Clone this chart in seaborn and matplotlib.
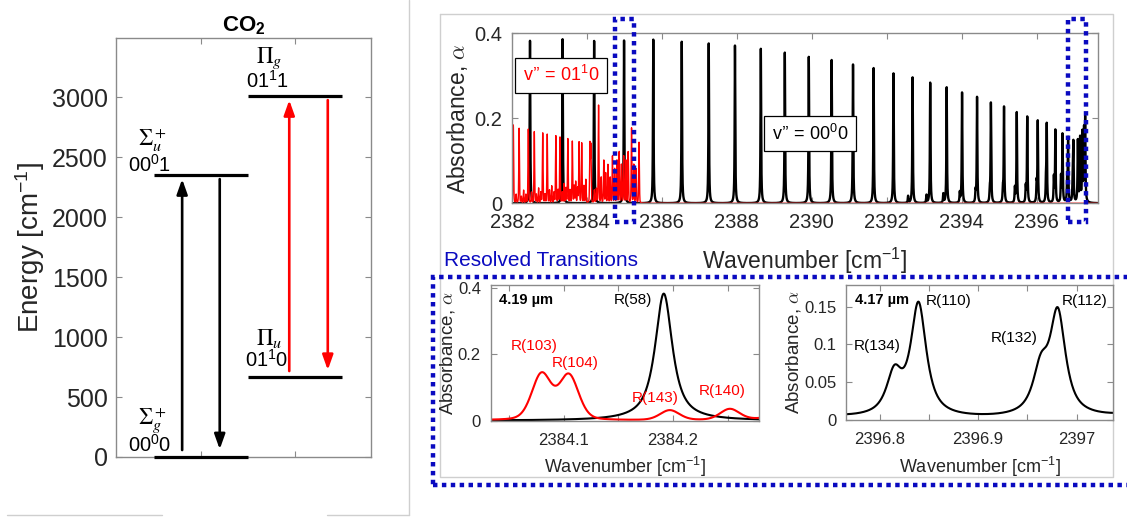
import numpy as np
import matplotlib
matplotlib.use("Agg")
import matplotlib.pyplot as plt
import seaborn as sns
from matplotlib.patches import Rectangle
from matplotlib.lines import Line2D
from matplotlib.ticker import FixedLocator, FuncFormatter

# ------------------------------------------------------------------ data
# energy-level diagram
level_labels = ["00$^0$0", "00$^0$1", "01$^1$0", "01$^1$1"]
level_symbols = [r"$\Sigma_g^+$", r"$\Sigma_u^+$", r"$\Pi_u$", r"$\Pi_g$"]
level_energy = [0, 2349, 667, 3015]
level_column = [1, 1, 2, 2]

arrow_x = [0.80, 1.20, 1.94, 2.35]
arrow_start = [58, 2318, 717, 2977]
arrow_end = [2318, 64, 2977, 725]
arrow_colors = ["black", "black", "red", "red"]

# v'' = 00^0 0 band (black): line centres [cm-1] and peak absorbance
black_wn = [2382.48, 2383.35, 2384.1915, 2384.99, 2385.77, 2386.53, 2387.25,
            2387.95, 2388.64, 2389.28, 2389.92, 2390.53, 2391.10, 2391.65,
            2392.18, 2392.69, 2393.16, 2393.60, 2394.01, 2394.41, 2394.78,
            2395.13, 2395.47, 2395.75, 2396.03, 2396.27, 2396.50, 2396.69,
            2396.8395, 2396.9807, 2397.10, 2397.16, 2397.22, 2397.265, 2397.295,
            # weak high-J lines beyond the band head
            2392.57, 2393.06, 2393.51, 2393.95, 2394.37, 2394.75, 2395.10,
            2395.42, 2395.71, 2396.00, 2396.25, 2396.46, 2396.65,
            2396.815, 2396.9635]
black_h = [0.383, 0.386, 0.382, 0.383, 0.385, 0.380, 0.376,
           0.371, 0.364, 0.355, 0.345, 0.337, 0.327, 0.318,
           0.306, 0.296, 0.284, 0.273, 0.260, 0.249, 0.235,
           0.225, 0.213, 0.202, 0.191, 0.180, 0.170, 0.160,
           0.148, 0.134, 0.145, 0.150, 0.160, 0.160, 0.190,
           0.016, 0.018, 0.021, 0.023, 0.025, 0.027, 0.030,
           0.034, 0.036, 0.043, 0.050, 0.058, 0.060,
           0.053, 0.056]

# v'' = 01^1 0 hot band (red)
red_wn = [2382.035, 2382.11, 2382.19, 2382.25, 2382.31, 2382.37, 2382.435,
          2382.52, 2382.595, 2382.65, 2382.71, 2382.77, 2382.82, 2382.88,
          2382.94, 2383.00, 2383.06, 2383.12, 2383.17, 2383.23, 2383.28,
          2383.34, 2383.39, 2383.44, 2383.49, 2383.55, 2383.61, 2383.66,
          2383.70, 2383.75, 2383.79, 2383.86, 2383.92, 2383.97,
          2384.0796, 2384.1046, 2384.197, 2384.252, 2384.31, 2384.38,
          2384.45, 2384.50, 2384.56, 2384.62, 2384.68, 2384.74, 2384.80,
          2384.86, 2384.92, 2384.98, 2385.04, 2385.10, 2385.19, 2385.25,
          2385.31, 2385.39]
red_h = [0.184, 0.020, 0.176, 0.015, 0.030, 0.020, 0.174,
         0.025, 0.168, 0.020, 0.035, 0.025, 0.165, 0.020,
         0.162, 0.030, 0.040, 0.025, 0.158, 0.030, 0.155,
         0.025, 0.045, 0.035, 0.151, 0.030, 0.145, 0.040,
         0.050, 0.035, 0.143, 0.141, 0.040, 0.055,
         0.138, 0.134, 0.030, 0.033, 0.230, 0.060,
         0.100, 0.070, 0.090, 0.060, 0.110, 0.080, 0.100,
         0.120, 0.090, 0.110, 0.100, 0.120, 0.176, 0.090,
         0.080, 0.143]

top_xticks = [2382, 2384, 2386, 2388, 2390, 2392, 2394, 2396]
top_yticks = [0, 0.2, 0.4]
bl_xticks = [2384.1, 2384.2]
bl_minor = [2384.05, 2384.15, 2384.25]
bl_yticks = [0, 0.2, 0.4]
br_xticks = [2396.8, 2396.9, 2397.0]
br_minor = [2396.85, 2396.95]
br_yticks = [0, 0.05, 0.1, 0.15]

bl_labels = ["R(58)", "R(103)", "R(104)", "R(143)", "R(140)"]
bl_label_x = [2384.163, 2384.0726, 2384.1107, 2384.1839, 2384.2448]
bl_label_y = [0.363, 0.2255, 0.1735, 0.069, 0.0893]
bl_label_c = ["black", "red", "red", "red", "red"]
br_labels = ["R(110)", "R(112)", "R(134)", "R(132)"]
br_label_x = [2396.870, 2397.0077, 2396.798, 2396.9368]
br_label_y = [0.158, 0.1576, 0.0984, 0.108]

# ------------------------------------------------------------------ style
sns.set_theme(style="white")
plt.rcParams["font.family"] = ["Liberation Sans", "DejaVu Sans"]
plt.rcParams["mathtext.fontset"] = "custom"
plt.rcParams["mathtext.rm"] = "Liberation Sans"
plt.rcParams["mathtext.it"] = "Liberation Sans:italic"
plt.rcParams["mathtext.bf"] = "Liberation Sans:bold"

TXT = "#262626"
SPINE = "#8a8a8a"
BLUE = "#0a0ac0"
W, H = 1127, 518


def fx(px):
    return px / W


def fy(py):
    return 1 - py / H


def axes_px(x0, y0, x1, y1):
    return [fx(x0), fy(y1), fx(x1) - fx(x0), fy(y0) - fy(y1)]


def profile(grid, centres, heights, hw, eta):
    c = np.asarray(centres)[:, None]
    h = np.asarray(heights)[:, None]
    d = (grid[None, :] - c) / hw
    p = eta / (1 + d ** 2) + (1 - eta) * np.exp(-np.log(2) * d ** 2)
    return (h * p).sum(axis=0)


def style_axes(ax, size, pad):
    for s in ax.spines.values():
        s.set_color(SPINE)
        s.set_linewidth(1.0)
        s.set_visible(True)
    ax.tick_params(which="both", direction="in", top=True, right=True,
                   bottom=True, left=True, color=SPINE, length=4, width=0.8,
                   labelsize=size, labelcolor=TXT, pad=pad)
    ax.set_facecolor("white")


fmt = FuncFormatter(lambda v, p: f"{v:g}")

fig = plt.figure(figsize=(W / 100, H / 100), dpi=100)
fig.patch.set_facecolor("white")

# ------------------------------------------------------------------ left: energy levels
axL = fig.add_axes(axes_px(116, 38, 371, 457))
style_axes(axL, 18, 6)
axL.set_xlim(0.096, 2.81)
axL.set_ylim(0, 3495)
axL.set_yticks([0, 500, 1000, 1500, 2000, 2500, 3000])
axL.set_xticks([1, 2])
axL.set_xticklabels([])
for e, c in zip(level_energy, level_column):
    axL.hlines(e, c - 0.5, c + 0.5, color="black", lw=2.3, clip_on=False, zorder=3)
for x, a, b, col in zip(arrow_x, arrow_start, arrow_end, arrow_colors):
    axL.annotate("", xy=(x, b), xytext=(x, a),
                 arrowprops=dict(arrowstyle="-|>,head_length=0.45,head_width=0.16",
                                 color=col, lw=1.9, shrinkA=0, shrinkB=0,
                                 mutation_scale=20))
sym_pos = [(0.486, 303), (0.486, 2644), (1.727, 990), (1.727, 3325)]
lab_pos = [(0.458, 100), (0.449, 2441), (1.695, 809), (1.704, 3139)]
for s, (x, y) in zip(level_symbols, sym_pos):
    axL.text(x, y, s, ha="center", va="center", fontsize=16.5, color="black",
             math_fontfamily="stix")
for s, (x, y) in zip(level_labels, lab_pos):
    axL.text(x, y, s, ha="center", va="center", fontsize=14.5, color="black")
axL.set_ylabel("Energy [cm$^{-1}$]", fontsize=20, color=TXT)
axL.yaxis.set_label_coords(-0.272, 0.5)
axL.set_title(r"$\mathbf{CO_2}$", fontsize=16, color="black", pad=5)

# ------------------------------------------------------------------ top right: full spectrum
axT = fig.add_axes(axes_px(512, 33.3, 1097.7, 203.3))
style_axes(axT, 14.5, 7)
gridT = np.arange(2381.99, 2397.64, 0.0008)
blackT = profile(gridT, black_wn, black_h, 0.0095, 0.9)
redT = profile(gridT, red_wn, red_h, 0.0105, 0.25)
sns.lineplot(x=gridT, y=blackT, ax=axT, color="black", lw=1.7,
             estimator=None, sort=False)
sns.lineplot(x=gridT, y=redT, ax=axT, color="red", lw=1.0,
             estimator=None, sort=False)
axT.set_xlim(2382, 2397.63)
axT.set_ylim(0, 0.4)
axT.xaxis.set_major_locator(FixedLocator(top_xticks))
axT.yaxis.set_major_locator(FixedLocator(top_yticks))
axT.yaxis.set_major_formatter(fmt)
axT.set_xlabel("Wavenumber [cm$^{-1}$]", fontsize=16.5, color=TXT)
axT.xaxis.set_label_coords(0.5, -0.25)
axT.set_ylabel("Absorbance, $\\alpha$", fontsize=16.5, color=TXT,
               math_fontfamily="cm")
axT.yaxis.set_label_coords(-0.072, 0.5)
axT.text(2383.316, 0.301, "v\u2019\u2019 = 01$^1$0", color="red", fontsize=13,
         ha="center", va="center", zorder=5,
         bbox=dict(boxstyle="square,pad=0.42", fc="white", ec="black", lw=0.9))
axT.text(2389.95, 0.1635, "v\u2019\u2019 = 00$^0$0", color="black", fontsize=13,
         ha="center", va="center", zorder=5,
         bbox=dict(boxstyle="square,pad=0.42", fc="white", ec="black", lw=0.9))
for x0, x1 in [(2384.748, 2385.263), (2396.826, 2397.315)]:
    axT.add_patch(Rectangle((x0, -0.0433), x1 - x0, 0.4766, fill=False,
                            ec=BLUE, lw=3.2, ls=(0, (1, 1)), clip_on=False, zorder=6))

# ------------------------------------------------------------------ bottom left zoom
axBL = fig.add_axes(axes_px(490.7, 285, 759.3, 420.7))
style_axes(axBL, 12, 7)
gridBL = np.arange(2384.03, 2384.282, 0.0004)
sns.lineplot(x=gridBL, y=profile(gridBL, black_wn, black_h, 0.0095, 0.9),
             ax=axBL, color="black", lw=1.5, estimator=None, sort=False)
sns.lineplot(x=gridBL, y=profile(gridBL, red_wn, red_h, 0.0105, 0.25),
             ax=axBL, color="red", lw=1.5, estimator=None, sort=False)
axBL.set_xlim(2384.033, 2384.279)
axBL.set_ylim(0, 0.408)
axBL.xaxis.set_major_locator(FixedLocator(bl_xticks))
axBL.xaxis.set_minor_locator(FixedLocator(bl_minor))
axBL.xaxis.set_major_formatter(fmt)
axBL.yaxis.set_major_locator(FixedLocator(bl_yticks))
axBL.yaxis.set_major_formatter(fmt)
axBL.tick_params(axis="x", pad=9)
axBL.set_xlabel("Wavenumber [cm$^{-1}$]", fontsize=13, color=TXT)
axBL.xaxis.set_label_coords(0.5, -0.25)
axBL.set_ylabel("Absorbance, $\\alpha$", fontsize=13.5, color=TXT, math_fontfamily="cm")
axBL.yaxis.set_label_coords(-0.127, 0.5)
axBL.text(2384.0405, 0.363, "4.19 \u00b5m", fontsize=10.5, fontweight="bold",
          ha="left", va="center", color="black")
for s, x, y, c in zip(bl_labels, bl_label_x, bl_label_y, bl_label_c):
    axBL.text(x, y, s, fontsize=11, ha="center", va="center", color=c)

# ------------------------------------------------------------------ bottom right zoom
axBR = fig.add_axes(axes_px(846, 285, 1113.3, 420))
style_axes(axBR, 12, 7)
gridBR = np.arange(2396.76, 2397.04, 0.0004)
sns.lineplot(x=gridBR, y=profile(gridBR, black_wn, black_h, 0.0095, 0.9),
             ax=axBR, color="black", lw=1.5, estimator=None, sort=False)
axBR.set_xlim(2396.766, 2397.037)
axBR.set_ylim(0, 0.1787)
axBR.xaxis.set_major_locator(FixedLocator(br_xticks))
axBR.xaxis.set_minor_locator(FixedLocator(br_minor))
axBR.xaxis.set_major_formatter(fmt)
axBR.yaxis.set_major_locator(FixedLocator(br_yticks))
axBR.yaxis.set_major_formatter(fmt)
axBR.tick_params(axis="x", pad=9)
axBR.set_xlabel("Wavenumber [cm$^{-1}$]", fontsize=13, color=TXT)
axBR.xaxis.set_label_coords(0.5, -0.255)
axBR.set_ylabel("Absorbance, $\\alpha$", fontsize=13.5, color=TXT, math_fontfamily="cm")
axBR.yaxis.set_label_coords(-0.161, 0.5)
axBR.text(2396.7747, 0.159, "4.17 \u00b5m", fontsize=10.5, fontweight="bold",
          ha="left", va="center", color="black")
for s, x, y in zip(br_labels, br_label_x, br_label_y):
    axBR.text(x, y, s, fontsize=11, ha="center", va="center", color="black")

# ------------------------------------------------------------------ figure decorations
fig.text(fx(444), fy(261), "Resolved Transitions", color=BLUE, fontsize=15,
         ha="left", va="center")
fig.add_artist(Rectangle((fx(433.3), fy(485)), fx(1140) - fx(433.3),
                         fy(277.3) - fy(485), transform=fig.transFigure,
                         fill=False, ec=BLUE, lw=3.2, ls=(0, (1, 1)), zorder=10))
grey = "#cfcfcf"
for xs, ys in [([409, 409], [0, 515]), ([7, 162], [515, 515]),
               ([327, 409], [515, 515]),
               ([440, 1113, 1113, 440, 440], [14, 14, 477, 477, 14])]:
    fig.add_artist(Line2D([fx(v) for v in xs], [fy(v) for v in ys],
                          transform=fig.transFigure, color=grey, lw=1, zorder=0))

fig.savefig("out.png", dpi=100, facecolor="white")
